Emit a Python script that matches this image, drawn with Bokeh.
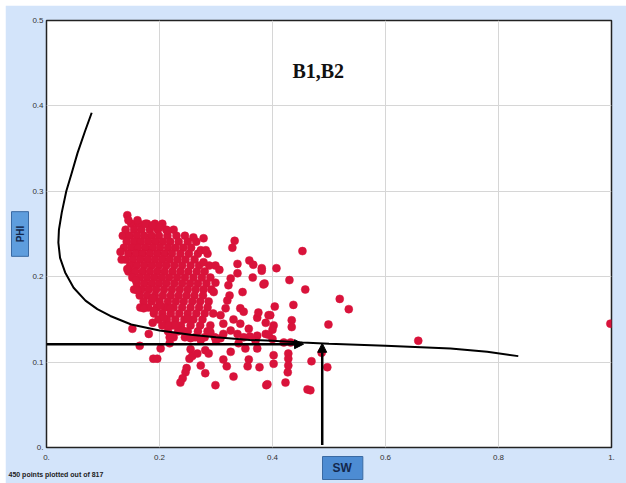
import math
from bokeh.plotting import figure
from bokeh.models import Label, Arrow, NormalHead, FixedTicker, Title
from bokeh.embed import file_html
from bokeh.resources import INLINE

# ---------------- data ----------------
x_ticks = [0, 0.2, 0.4, 0.6, 0.8, 1.0]
x_tick_labels = ["0.", "0.2", "0.4", "0.6", "0.8", "1."]
y_ticks = [0, 0.1, 0.2, 0.3, 0.4, 0.5]
y_tick_labels = ["0.", "0.1", "0.2", "0.3", "0.4", "0.5"]

# dense core of the cloud, one row per PHI level
cluster_phi = [0.262, 0.255, 0.248, 0.241, 0.234, 0.227, 0.220, 0.213, 0.206, 0.199,
               0.192, 0.185, 0.178, 0.171, 0.164, 0.157, 0.150, 0.143, 0.136, 0.129]
cluster_sw = [
    [0.150, 0.163, 0.178, 0.192, 0.205],
    [0.140, 0.155, 0.168, 0.183, 0.197, 0.212, 0.225],
    [0.135, 0.147, 0.160, 0.173, 0.186, 0.199, 0.214, 0.230, 0.245],
    [0.142, 0.155, 0.167, 0.180, 0.193, 0.206, 0.219, 0.234, 0.250, 0.265],
    [0.137, 0.150, 0.162, 0.175, 0.188, 0.201, 0.215, 0.228, 0.242, 0.256],
    [0.145, 0.158, 0.170, 0.183, 0.196, 0.209, 0.222, 0.237, 0.252, 0.268, 0.285],
    [0.140, 0.153, 0.166, 0.179, 0.192, 0.205, 0.218, 0.232, 0.246, 0.262],
    [0.148, 0.160, 0.173, 0.186, 0.199, 0.212, 0.226, 0.240, 0.255, 0.270, 0.288],
    [0.145, 0.157, 0.170, 0.183, 0.196, 0.209, 0.223, 0.237, 0.251, 0.266, 0.280],
    [0.152, 0.165, 0.178, 0.191, 0.204, 0.217, 0.231, 0.245, 0.260, 0.275],
    [0.160, 0.173, 0.186, 0.199, 0.212, 0.226, 0.240, 0.254, 0.268, 0.283],
    [0.155, 0.168, 0.181, 0.194, 0.208, 0.222, 0.236, 0.250, 0.264, 0.278, 0.292],
    [0.165, 0.178, 0.192, 0.206, 0.220, 0.234, 0.248, 0.262, 0.277],
    [0.172, 0.186, 0.200, 0.215, 0.229, 0.243, 0.258, 0.272, 0.287],
    [0.180, 0.195, 0.210, 0.225, 0.240, 0.255, 0.270, 0.285],
    [0.190, 0.205, 0.220, 0.235, 0.250, 0.265, 0.280, 0.295],
    [0.198, 0.213, 0.228, 0.244, 0.260, 0.276],
    [0.205, 0.222, 0.238, 0.255, 0.272, 0.290],
    [0.215, 0.233, 0.250, 0.268, 0.285],
    [0.225, 0.245, 0.263, 0.280, 0.298],
]

# individually read points around the core
scatter_sw = [
    0.143, 0.145, 0.161, 0.175, 0.188, 0.200, 0.214,
    0.278, 0.260, 0.333, 0.329, 0.273, 0.282, 0.278, 0.299, 0.306, 0.338, 0.359, 0.366, 0.381, 0.338,
    0.131, 0.133, 0.143,
    0.290, 0.299, 0.326, 0.365, 0.386, 0.322, 0.347, 0.324, 0.320, 0.296, 0.317, 0.343, 0.349, 0.308,
    0.373, 0.375, 0.331, 0.343, 0.313, 0.358, 0.388, 0.393, 0.326, 0.338, 0.349, 0.373, 0.388, 0.313,
    0.308, 0.290,
    0.158, 0.161, 0.166, 0.172, 0.188, 0.190, 0.202, 0.152, 0.181, 0.188, 0.207, 0.219, 0.216, 0.228,
    0.223, 0.241, 0.250,
    0.165, 0.202, 0.189, 0.196, 0.218, 0.218, 0.255, 0.253, 0.258, 0.267, 0.281, 0.287, 0.273, 0.281,
    0.248, 0.246, 0.241, 0.237, 0.299, 0.255, 0.273,
    0.326, 0.352, 0.373, 0.313, 0.319, 0.358, 0.356, 0.377, 0.331, 0.402, 0.402, 0.428, 0.428, 0.428,
    0.427, 0.423, 0.389, 0.469, 0.497, 0.462, 0.467, 0.432, 0.487,
    0.453, 0.407, 0.381, 0.384, 0.430, 0.458, 0.519, 0.535, 0.404, 0.437, 0.396, 0.499, 0.434, 0.434,
    0.402, 0.400, 0.393,
    0.658, 0.998, 0.300, 0.340, 0.370, 0.400, 0.420, 0.360, 0.391,
]
scatter_phi = [
    0.272, 0.266, 0.266, 0.262, 0.260, 0.258, 0.254,
    0.245, 0.246, 0.242, 0.234, 0.231, 0.231, 0.217, 0.213, 0.208, 0.215, 0.219, 0.214, 0.210, 0.204,
    0.229, 0.220, 0.209,
    0.199, 0.193, 0.198, 0.199, 0.192, 0.190, 0.182, 0.178, 0.172, 0.182, 0.163, 0.163, 0.159, 0.155,
    0.152, 0.158, 0.150, 0.145, 0.145, 0.139, 0.146, 0.155, 0.137, 0.133, 0.129, 0.131, 0.133, 0.133,
    0.128, 0.135,
    0.196, 0.184, 0.164, 0.163, 0.175, 0.160, 0.166, 0.139, 0.133, 0.146, 0.152, 0.163, 0.143, 0.143,
    0.131, 0.137, 0.151,
    0.119, 0.116, 0.104, 0.104, 0.122, 0.129, 0.115, 0.104, 0.107, 0.110, 0.114, 0.110, 0.096, 0.087,
    0.093, 0.088, 0.081, 0.076, 0.073, 0.128, 0.126,
    0.112, 0.116, 0.116, 0.103, 0.095, 0.103, 0.095, 0.094, 0.083, 0.108, 0.098, 0.110, 0.104, 0.096,
    0.088, 0.076, 0.073, 0.101, 0.094, 0.068, 0.067, 0.123, 0.111,
    0.230, 0.210, 0.207, 0.191, 0.196, 0.185, 0.174, 0.162, 0.165, 0.167, 0.155, 0.144, 0.149, 0.141,
    0.143, 0.138, 0.132,
    0.125, 0.145, 0.125, 0.122, 0.125, 0.127, 0.123, 0.130, 0.074,
]

# fitted cut-off curve
curve_sw = [0.080, 0.068, 0.055, 0.044, 0.035, 0.027, 0.022, 0.021, 0.024, 0.033, 0.048, 0.069,
            0.090, 0.113, 0.150, 0.200, 0.255, 0.300, 0.360, 0.400, 0.453, 0.500, 0.600, 0.715,
            0.780, 0.835]
curve_phi = [0.392, 0.370, 0.345, 0.320, 0.300, 0.275, 0.255, 0.240, 0.222, 0.205, 0.187, 0.172,
             0.162, 0.154, 0.144, 0.137, 0.132, 0.129, 0.126, 0.125, 0.123, 0.1215, 0.119, 0.116,
             0.112, 0.107]

phi_cutoff = 0.121
sw_cutoff = 0.488
sw_arrow_end = 0.455
title_text = "B1,B2"
footer_text = "450 points plotted out of 817"

# ---------------- build ----------------
pts_sw = [s for row in cluster_sw for s in row] + scatter_sw
pts_phi = [ph for ph, row in zip(cluster_phi, cluster_sw) for _ in row] + scatter_phi

p = figure(width=621, height=478, x_range=(0, 1), y_range=(0, 0.5),
           output_backend="svg", toolbar_location=None,
           min_border_left=41, min_border_right=15, min_border_top=15, min_border_bottom=36)
p.margin = (5, 0, 0, 5)

p.border_fill_color = "#d3e4fa"
p.background_fill_color = "white"
p.outline_line_color = "#222222"
p.outline_line_width = 1.5

p.xaxis.ticker = FixedTicker(ticks=x_ticks)
p.yaxis.ticker = FixedTicker(ticks=y_ticks)
p.xaxis.major_label_overrides = {t: l for t, l in zip(x_ticks, x_tick_labels)}
p.yaxis.major_label_overrides = {t: l for t, l in zip(y_ticks, y_tick_labels)}
for ax in (p.xaxis, p.yaxis):
    ax.axis_line_color = None
    ax.major_tick_line_color = None
    ax.minor_tick_line_color = None
    ax.major_tick_out = 0
    ax.major_tick_in = 0
    ax.minor_tick_out = 0
    ax.minor_tick_in = 0
    ax.major_label_text_font = "Liberation Sans"
    ax.major_label_text_font_size = "8px"
    ax.major_label_text_color = "#333333"
p.xaxis.major_label_standoff = 7
p.yaxis.major_label_standoff = 3

p.xgrid.grid_line_color = "#d6d6d6"
p.ygrid.grid_line_color = "#d6d6d6"

p.scatter(pts_sw, pts_phi, size=8, fill_color="#d9133b", line_color="#d9133b", line_width=0.5)
p.line(curve_sw, curve_phi, line_color="black", line_width=2)

# axis-name boxes and footer as titles in the side panels
p.add_layout(Title(text="SW", align="left", offset=276, standoff=-16,
                   text_font="Liberation Sans", text_font_style="bold", text_font_size="12px",
                   text_color="#13284d", background_fill_color="#4d8cd3",
                   border_line_color="#3a6aa3", padding=(10, 11, 4, 5)), "below")
p.add_layout(Title(text=footer_text, align="left", offset=-38, standoff=-5,
                   text_font="Liberation Sans", text_font_size="7px", text_color="#222222"), "below")
p.add_layout(Title(text="\u2003\u2009PHI\u2003\u2009", align="center", offset=-1, standoff=2,
                   text_font="Liberation Sans", text_font_style="bold", text_font_size="10px",
                   text_color="#13284d", background_fill_color="#5e9ddd",
                   border_line_color="#3a6aa3", padding=(2, 2, 3, 3)), "left")

p.add_layout(Arrow(end=NormalHead(size=9, fill_color="black", line_color="black"),
                   x_start=0, y_start=phi_cutoff, x_end=sw_arrow_end, y_end=phi_cutoff,
                   line_width=2.5, line_color="black"))
p.add_layout(Arrow(end=NormalHead(size=9, fill_color="black", line_color="black"),
                   x_start=sw_cutoff, y_start=0.003, x_end=sw_cutoff, y_end=phi_cutoff + 0.001,
                   line_width=2.5, line_color="black"))

p.add_layout(Label(x=0.481, y=0.441, text=title_text, text_align="center", text_baseline="middle",
                   text_font="Liberation Serif", text_font_style="bold", text_font_size="20px",
                   text_color="#111111"))

open("out.html", "w").write(file_html(p, INLINE))
